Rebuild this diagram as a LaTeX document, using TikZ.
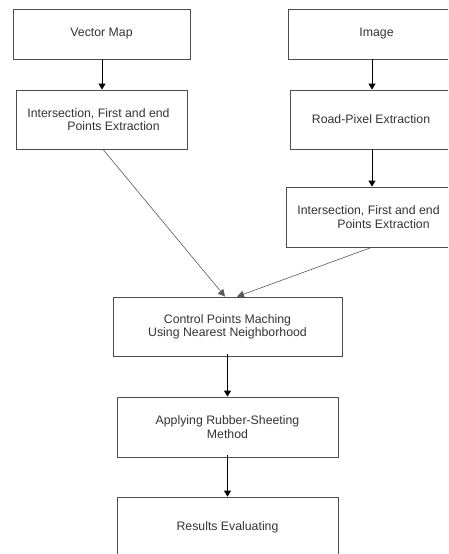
\documentclass[tikz,border=0pt]{standalone}
\usepackage{fontspec}
\setmainfont{Liberation Sans}
\usetikzlibrary{arrows.meta}
\begin{document}
\begin{tikzpicture}[x=1pt,y=-1pt,
  box/.style={draw=black!70,line width=0.8pt,inner sep=0pt,text=black!80,
    font=\fontsize{12.3}{13.3}\selectfont,align=left},
  arr/.style={draw=black,line width=0.9pt,-{Triangle[length=6pt,width=7pt]}},
  diag/.style={draw=black!65,line width=0.6pt,-{Triangle[length=7pt,width=7pt]}}]
\useasboundingbox (0,0) rectangle (448,554);
\clip (0,0) rectangle (448,554);
\node[box,minimum width=177pt,minimum height=50pt] (b1) at (101.5,34) {Vector Map};
\node[box,minimum width=171pt,minimum height=59pt] (b2) at (101.5,119.5)
  {Intersection, First and end\hspace*{6pt}\\\hspace*{40pt}Points Extraction};
\node[box,minimum width=177pt,minimum height=50pt] (b3) at (376.5,34) {Image};
\node[box,minimum width=162pt,minimum height=59pt] (b4) at (371,119.5) {Road-Pixel Extraction};
\node[box,minimum width=171pt,minimum height=60pt] (b5) at (371.5,217)
  {Intersection, First and end\hspace*{6pt}\\\hspace*{40pt}Points Extraction};
\node[box,minimum width=229pt,minimum height=59pt,align=center] (b6) at (227.5,326.5)
  {Control Points Maching\\Using Nearest Neighborhood};
\node[box,minimum width=221pt,minimum height=60pt,align=center] (b7) at (227.5,427)
  {Applying Rubber-Sheeting\\Method};
\node[box,minimum width=221pt,minimum height=60pt] (b8) at (227.5,527) {Results Evaluating};
\draw[arr] ([xshift=0.5pt]b1.south) -- ([xshift=0.5pt]b2.north);
\draw[arr] ([xshift=1pt]b3.south -| b4.north) -- ([xshift=1pt]b4.north);
\draw[arr] ([xshift=1pt]b4.south) -- ([xshift=1pt]b4.south |- b5.north);
\draw[diag] ([xshift=1.5pt]b2.south) -- ([xshift=-2.5pt]b6.north);
\draw[diag] (b5.south) -- ([xshift=9.5pt]b6.north);
\draw[arr] ([yshift=2pt]b6.south) -- (b7.north);
\draw[arr] ([yshift=2pt]b7.south) -- (b8.north);
\end{tikzpicture}
\end{document}
